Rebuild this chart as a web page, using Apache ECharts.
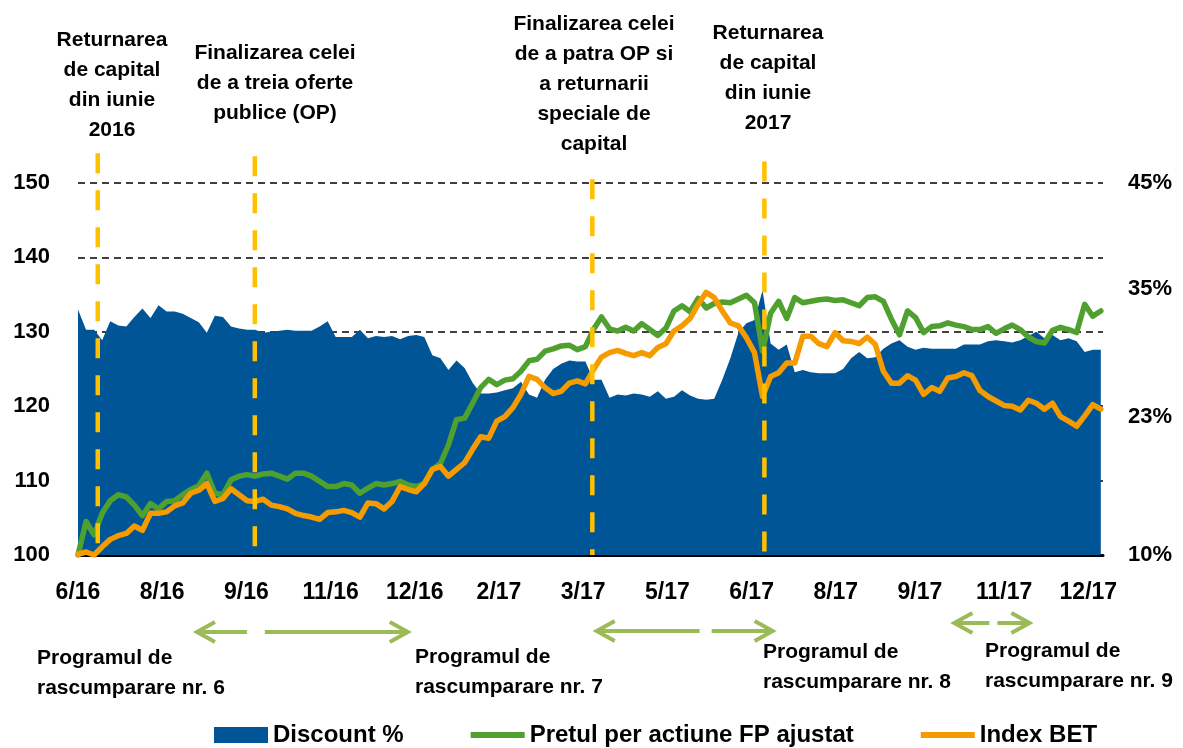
<!DOCTYPE html>
<html>
<head>
<meta charset="utf-8">
<script src="https://cdn.jsdelivr.net/npm/echarts@6/dist/echarts.min.js"></script>
<style>
html, body { margin: 0; padding: 0; background: #fff; }
#main { width: 1183px; height: 748px; }
</style>
</head>
<body>
<div id="main"></div>
<script>
// x = days since 20 June 2016, one sample every STEP days
var STEP = 4.4;
var LABEL_STEP = 46;
var xLabels = ['6/16', '8/16', '9/16', '11/16', '12/16', '2/17', '3/17', '5/17', '6/17', '8/17', '9/17', '11/17', '12/17'];
var rightTicks = [10, 23, 35, 45];

// discount %, right axis
var discount = [
  33.1, 31.2, 31.2, 30.2, 32.0, 31.6, 31.5, 32.4, 33.2, 32.3,
  33.5, 32.9, 32.9, 32.7, 32.3, 31.9, 30.9, 32.5, 32.4, 31.5,
  31.3, 31.2, 31.2, 30.9, 31.0, 31.1, 31.2, 31.1, 31.1, 31.1,
  31.5, 32.0, 30.5, 30.5, 30.5, 31.2, 30.4, 30.6, 30.5, 30.6,
  30.3, 30.6, 30.7, 30.5, 28.8, 28.5, 27.4, 28.3, 27.6, 26.2,
  25.2, 25.2, 25.3, 25.5, 25.7, 26.3, 25.1, 24.8, 26.5, 27.5,
  28.0, 28.3, 28.2, 28.2, 26.5, 26.5, 24.8, 25.1, 25.0, 25.2,
  25.1, 24.9, 25.4, 24.7, 24.9, 25.5, 25.0, 24.7, 24.6, 24.7,
  26.5, 28.5, 30.9, 31.8, 32.1, 34.9, 29.9, 29.3, 29.8, 27.2,
  27.4, 27.2, 27.1, 27.1, 27.1, 27.5, 28.5, 29.1, 28.5, 28.6,
  29.4, 29.9, 30.2, 29.6, 29.3, 29.5, 29.4, 29.4, 29.4, 29.4,
  29.8, 29.8, 29.8, 30.1, 30.2, 30.1, 30.0, 30.2, 30.6, 31.0,
  30.4, 30.7, 30.2, 30.4, 30.1, 29.1, 29.3, 29.3
];

// pretul per actiune FP ajustat, left axis
var pretFP = [
  100.0, 104.5, 102.7, 105.6, 107.3, 108.1, 107.8, 106.7, 105.3, 106.9,
  106.2, 107.2, 107.3, 108.1, 108.8, 109.3, 111.0, 108.3, 108.1, 110.1,
  110.6, 110.8, 110.6, 110.9, 111.0, 110.6, 110.2, 111.0, 111.0, 110.6,
  109.9, 109.2, 109.2, 109.6, 109.4, 108.3, 109.0, 109.6, 109.4, 109.6,
  109.9, 109.4, 109.2, 109.6, 111.5, 112.3, 114.8, 118.2, 118.4, 120.4,
  122.5, 123.6, 122.9, 123.5, 123.7, 124.7, 126.1, 126.3, 127.4, 127.7,
  128.1, 128.2, 127.6, 128.0, 130.3, 132.0, 130.4, 130.1, 130.6, 130.1,
  131.1, 130.3, 129.5, 130.5, 132.8, 133.5, 132.7, 134.5, 133.2, 133.8,
  134.0, 133.9, 134.4, 134.9, 133.9, 127.4, 132.5, 134.1, 131.8, 134.6,
  133.9, 134.1, 134.3, 134.4, 134.2, 134.3, 133.9, 133.5, 134.6, 134.7,
  134.1, 131.7, 129.6, 132.8, 131.9, 129.9, 130.7, 130.8, 131.2, 130.9,
  130.7, 130.3, 130.3, 130.7, 129.8, 130.4, 130.9, 130.3, 129.3, 128.7,
  128.5, 130.2, 130.6, 130.3, 129.9, 133.7, 132.1, 132.8
];

// index BET, left axis
var indexBET = [
  100.1, 100.4, 100.0, 101.1, 102.1, 102.6, 102.9, 103.9, 103.3, 105.6,
  105.6, 105.8, 106.6, 107.0, 108.3, 108.7, 109.6, 107.2, 107.6, 108.9,
  108.1, 107.3, 107.2, 107.5, 106.7, 106.5, 106.2, 105.6, 105.3, 105.1,
  104.8, 105.7, 105.8, 106.0, 105.7, 105.1, 107.0, 106.9, 106.2, 107.2,
  109.2, 108.8, 108.5, 109.6, 111.5, 111.9, 110.6, 111.5, 112.4, 114.2,
  115.9, 115.7, 118.0, 118.6, 119.8, 121.6, 124.0, 123.6, 122.5, 121.7,
  122.0, 123.1, 123.4, 123.0, 124.9, 126.6, 127.2, 127.5, 127.1, 126.8,
  127.2, 126.8, 127.9, 128.4, 130.1, 130.8, 131.8, 133.7, 135.3, 134.6,
  132.8, 131.2, 130.8, 129.2, 127.2, 121.3, 124.0, 124.5, 125.8, 125.8,
  129.4, 129.4, 128.4, 128.0, 129.9, 128.8, 128.7, 128.4, 129.3, 128.3,
  124.7, 123.1, 123.1, 124.1, 123.5, 121.6, 122.5, 122.0, 123.8, 124.0,
  124.5, 124.1, 122.1, 121.3, 120.7, 120.1, 120.0, 119.5, 120.8, 120.4,
  119.6, 120.4, 118.6, 118.0, 117.3, 118.7, 120.2, 119.6
];

// events (dashed verticals), in days, and how high each dash goes (left axis units)
var eventDays = [10.8, 96.6, 281, 375];
var eventTop = [154.0, 153.6, 150.5, 152.9];
var eventText = [
  'Returnarea\nde capital\ndin iunie\n2016',
  'Finalizarea celei\nde a treia oferte\npublice (OP)',
  'Finalizarea celei\nde a patra OP si\na returnarii\nspeciale de\ncapital',
  'Returnarea\nde capital\ndin iunie\n2017'
];

// buyback programmes: left arrow [from, to], right arrow [from, to], in days
var programs = [
  { name: 'Programul de\nrascumparare nr. 6', left: [65, 92.3], right: [102.1, 180.2] },
  { name: 'Programul de\nrascumparare nr. 7', left: [283.4, 339.6], right: [346.2, 379.5] },
  { name: 'Programul de\nrascumparare nr. 8', left: null, right: null },
  { name: 'Programul de\nrascumparare nr. 9', left: [478.8, 497.9], right: [502.3, 519.8] }
];

var BLUE = '#005596';
var GREEN = '#50A030';
var ORANGE = '#F59B00';
var GOLD = '#FFC000';
var ARROW = '#9BBB59';
var FONT = "'Liberation Sans', Arial, sans-serif";

function toXY(arr) {
  return arr.map(function (v, i) { return [i * STEP, v]; });
}

var chart = echarts.init(document.getElementById('main'));

var option = {
  animation: false,
  backgroundColor: '#fff',
  textStyle: { fontFamily: FONT },
  grid: { left: 78, right: 80, top: 183, bottom: 193, outerBoundsMode: 'none' },
  legend: {
    left: 214,
    top: 723,
    padding: 0,
    itemWidth: 54,
    itemHeight: 16,
    itemGap: 67,
    selectedMode: false,
    textStyle: { fontSize: 24, fontWeight: 'bold', color: '#000', fontFamily: FONT },
    data: [
      { name: 'Discount %', icon: 'rect' },
      { name: 'Pretul per actiune FP ajustat', icon: 'path://M0,0H54V6H0Z' },
      { name: 'Index BET', icon: 'path://M0,0H54V6H0Z' }
    ]
  },
  xAxis: {
    type: 'value',
    min: 0,
    max: 560,
    interval: LABEL_STEP,
    axisLine: { show: true, onZero: false, lineStyle: { color: '#000', width: 3 } },
    axisTick: { show: false },
    splitLine: { show: false },
    axisLabel: {
      margin: 26,
      fontSize: 23,
      fontWeight: 'bold',
      color: '#000',
      fontFamily: FONT,
      formatter: function (v) {
        var k = Math.round(v / LABEL_STEP);
        return Math.abs(v - k * LABEL_STEP) < 0.01 ? (xLabels[k] || '') : '';
      }
    }
  },
  yAxis: [
    {
      type: 'value',
      min: 100,
      max: 150,
      interval: 10,
      axisLine: { show: false },
      axisTick: { show: false },
      splitLine: { show: true, lineStyle: { color: '#000', type: [7, 5], width: 1.5 } },
      axisLabel: { margin: 28, fontSize: 22, fontWeight: 'bold', color: '#000', fontFamily: FONT }
    },
    {
      type: 'value',
      min: 10,
      max: 45,
      position: 'right',
      axisLine: { show: false },
      axisTick: { show: false },
      splitLine: { show: false },
      axisLabel: {
        customValues: rightTicks,
        formatter: '{value}%',
        margin: 25,
        fontSize: 22,
        fontWeight: 'bold',
        color: '#000',
        fontFamily: FONT
      }
    }
  ],
  series: [
    {
      name: 'Discount %',
      type: 'line',
      yAxisIndex: 1,
      data: toXY(discount),
      symbol: 'none',
      lineStyle: { width: 0 },
      itemStyle: { color: BLUE },
      areaStyle: { color: BLUE, opacity: 1, origin: 'start' },
      z: 1
    },
    {
      name: 'Pretul per actiune FP ajustat',
      type: 'line',
      data: toXY(pretFP),
      symbol: 'none',
      itemStyle: { color: GREEN },
      lineStyle: { color: GREEN, width: 5.5, join: 'round', cap: 'round' },
      z: 3
    },
    {
      name: 'Index BET',
      type: 'line',
      data: toXY(indexBET),
      symbol: 'none',
      itemStyle: { color: ORANGE },
      lineStyle: { color: ORANGE, width: 5.5, join: 'round', cap: 'round' },
      z: 4
    }
  ]
};

chart.setOption(option);

// texts above the plot, event dashes and the programme arrows below it
var textX = [112, 275, 594, 768];
var textY = [25, 38, 9, 18];
var progX = [37, 415, 763, 985];
var progY = [643, 642, 637, 636];
var arrowY = [632, 631, 631, 623];

function px(d) { return chart.convertToPixel({ xAxisIndex: 0 }, d); }
function pt(d, v) { return chart.convertToPixel({ gridIndex: 0 }, [d, v]); }

var elements = [];
eventDays.forEach(function (d, k) {
  var top = pt(d, eventTop[k]);
  var bottom = pt(d, 100);
  elements.push({
    type: 'line', silent: true, z: 10,
    shape: { x1: top[0], y1: top[1], x2: bottom[0], y2: bottom[1] },
    style: { stroke: GOLD, lineWidth: 4.5, lineDash: [20, 17] }
  });
  elements.push({
    type: 'text', x: textX[k], y: textY[k], silent: true,
    style: { text: eventText[k], textAlign: 'center', align: 'center', textVerticalAlign: 'top', verticalAlign: 'top',
      font: 'bold 21px ' + FONT, lineHeight: 30, fill: '#000' }
  });
});

programs.forEach(function (p, k) {
  elements.push({
    type: 'text', x: progX[k], y: progY[k], silent: true,
    style: { text: p.name, textAlign: 'left', align: 'left', textVerticalAlign: 'top', verticalAlign: 'top',
      font: 'bold 21px ' + FONT, lineHeight: 30, fill: '#000' }
  });
  var y = arrowY[k];
  var st = { stroke: ARROW, lineWidth: 4, fill: null, lineCap: 'butt', lineJoin: 'miter' };
  if (p.left) {
    var a = px(p.left[0]), b = px(p.left[1]);
    elements.push({ type: 'polyline', silent: true, shape: { points: [[a + 18, y - 10], [a, y], [a + 18, y + 10]] }, style: st });
    elements.push({ type: 'line', silent: true, shape: { x1: a + 1, y1: y, x2: b, y2: y }, style: st });
  }
  if (p.right) {
    var c = px(p.right[0]), e = px(p.right[1]);
    elements.push({ type: 'line', silent: true, shape: { x1: c, y1: y, x2: e - 1, y2: y }, style: st });
    elements.push({ type: 'polyline', silent: true, shape: { points: [[e - 18, y - 10], [e, y], [e - 18, y + 10]] }, style: st });
  }
});

chart.setOption({ graphic: elements });
</script>
</body>
</html>
